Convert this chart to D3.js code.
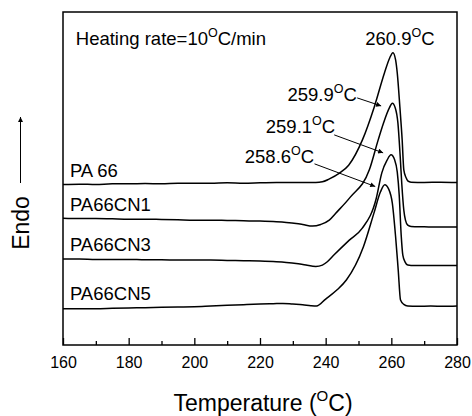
<!DOCTYPE html>
<html>
<head>
<meta charset="utf-8">
<script src="https://cdn.jsdelivr.net/npm/d3@7"></script>
<style>
  body { margin: 0; background: #fff; }
  svg { display: block; font-family: "Liberation Sans", Arial, sans-serif; }
</style>
</head>
<body>
<div id="chart"></div>
<script>
// DSC heating curves (arbitrary heat flow units, stacked)
const pa66 = [[160,4.82],[165,4.83],[170,4.82],[175,4.84],[180,4.84],[185,4.85],[190,4.84],[195,4.86],[200,4.86],[205,4.86],[210,4.87],[215,4.86],[220,4.87],[225,4.88],[230,4.88],[234,4.88],[237,4.88],[239,4.9],[241,4.98],[244.2,5.16],[247,5.4],[251.2,6.16],[254.8,7.15],[257.9,8.17],[259.5,8.62],[260.5,8.78],[261.3,8.56],[261.8,8.17],[262.6,7.15],[263.3,6.16],[263.8,5.26],[264.5,5.02],[265,4.93],[266,4.89],[270,4.88],[275,4.89],[280,4.88]];
const pa66cn1 = [[160,3.81],[165,3.8],[170,3.8],[175,3.79],[180,3.78],[185,3.78],[190,3.77],[195,3.76],[200,3.75],[205,3.75],[210,3.74],[215,3.73],[220,3.72],[225,3.7],[228,3.68],[231,3.65],[233,3.62],[236,3.57],[238.5,3.62],[241.1,3.75],[243,3.95],[247.5,4.44],[253.3,5.26],[256,6.16],[257.6,6.66],[259.4,7.12],[260.3,7.26],[261.2,7.12],[262,6.67],[262.7,5.66],[263.2,4.81],[263.8,4.05],[264.3,3.75],[265,3.6],[266,3.56],[270,3.55],[275,3.54],[280,3.54]];
const pa66cn3 = [[160,2.58],[165,2.58],[170,2.57],[175,2.57],[180,2.57],[185,2.56],[190,2.56],[195,2.55],[200,2.55],[205,2.55],[210,2.54],[215,2.53],[220,2.52],[225,2.5],[228,2.48],[231,2.45],[234,2.4],[237,2.36],[239,2.4],[240.5,2.5],[242.5,2.7],[247.2,3.15],[251.1,3.5],[255.4,4.4],[257.1,5.17],[258.7,5.55],[259.9,5.71],[261,5.56],[261.8,5.2],[262.4,4.5],[263,3.3],[263.5,2.7],[264.2,2.49],[265,2.4],[266,2.39],[270,2.39],[275,2.39],[280,2.39]];
const pa66cn5 = [[160,1.09],[165,1.09],[170,1.09],[175,1.1],[180,1.11],[185,1.12],[190,1.13],[195,1.14],[200,1.15],[205,1.17],[210,1.19],[215,1.21],[220,1.23],[224,1.24],[227,1.25],[230,1.23],[233,1.21],[235.5,1.18],[237.2,1.17],[240,1.38],[243.4,1.65],[246.3,1.95],[251.5,2.95],[254.7,3.96],[256.7,4.6],[258,4.81],[259.2,4.68],[260.3,4.26],[261.3,3.25],[262.1,2.25],[262.8,1.35],[263.8,1.22],[265,1.17],[268,1.16],[272,1.17],[276,1.16],[280,1.17]];

const seriesData = [pa66, pa66cn1, pa66cn3, pa66cn5];
const seriesNames = ["PA 66", "PA66CN1", "PA66CN3", "PA66CN5"];
// label anchor: [temperature, heat flow]
const seriesLabelPos = [[162.1,5.05],[162.1,4.02],[162.1,2.82],[162.1,1.34]];

const xTicks = [160, 180, 200, 220, 240, 260, 280];
const xMinorTicks = [170, 190, 210, 230, 250, 270];

// peak annotations: text, text anchor point, arrow start, arrow end
const peakLabels = ["260.9", "259.9", "259.1", "258.6"];
const peakTextPos = [[252.05,9.01],[249.5,7.33],[242.9,6.37],[236.5,5.48]];
const peakArrowFrom = [null,[249.6,7.42],[242.6,6.31],[236.6,5.44]];
const peakArrowTo = [null,[256.9,7.18],[257.5,5.77],[255.1,4.76]];

const w = 472;
const h = 416;
const margin = { top: 12, right: 15, bottom: 71, left: 63 };

const svg = d3.select("#chart").append("svg").attr("width", w).attr("height", h);
svg.append("rect").attr("width", w).attr("height", h).attr("fill", "#fff");

const xScale = d3.scaleLinear().domain([160, 280]).range([margin.left, w - margin.right]);
const yScale = d3.scaleLinear().domain([0, 10]).range([h - margin.bottom, margin.top]);

const defs = svg.append("defs");
defs.append("marker")
  .attr("id", "head")
  .attr("viewBox", "0 0 10 10")
  .attr("refX", 10).attr("refY", 5)
  .attr("markerWidth", 8).attr("markerHeight", 5)
  .attr("markerUnits", "userSpaceOnUse")
  .attr("orient", "auto")
  .append("path").attr("d", "M0,0L10,5L0,10Z").attr("fill", "#000");

// degree text: main + superscript "O" + rest
function degText(g, x, y, before, after, size, supSize, anchor) {
  const t = g.append("text")
    .attr("x", x).attr("y", y)
    .attr("font-size", size)
    .attr("text-anchor", anchor || "start")
    .attr("fill", "#000");
  t.append("tspan").text(before);
  t.append("tspan").attr("font-size", supSize).attr("dy", -size * 0.42).text("O");
  t.append("tspan").attr("dy", size * 0.42).text(after);
  return t;
}

// curves
const line = d3.line()
  .x((d) => xScale(d[0]))
  .y((d) => yScale(d[1]))
  .curve(d3.curveMonotoneX);

svg.selectAll("path.curve")
  .data(seriesData)
  .enter()
  .append("path")
  .attr("class", "curve")
  .attr("d", line)
  .attr("fill", "none")
  .attr("stroke", "#000")
  .attr("stroke-width", 1.5)
  .attr("stroke-linejoin", "round");

// frame
svg.append("rect")
  .attr("x", xScale(160)).attr("y", yScale(10))
  .attr("width", xScale(280) - xScale(160))
  .attr("height", yScale(0) - yScale(10))
  .attr("fill", "none").attr("stroke", "#000").attr("stroke-width", 1.5);

// x axis ticks (inward)
const xAxis = d3.axisBottom(xScale).tickValues(xTicks).tickSizeInner(-7).tickSizeOuter(0).tickFormat(d3.format("d"));
const gx = svg.append("g").attr("transform", `translate(0,${yScale(0)})`).call(xAxis);
gx.select(".domain").remove();
gx.selectAll(".tick line").attr("stroke-width", 1.3);
gx.selectAll(".tick text").attr("font-size", 16).attr("font-family", "Liberation Sans, Arial, sans-serif").attr("dy", "0.9em").attr("y", 9);
const gxm = svg.append("g").attr("transform", `translate(0,${yScale(0)})`)
  .call(d3.axisBottom(xScale).tickValues(xMinorTicks).tickSizeInner(-4).tickSizeOuter(0).tickFormat(""));
gxm.select(".domain").remove();
gxm.selectAll(".tick line").attr("stroke-width", 1.3);

// axis titles
degText(svg, (xScale(160) + xScale(280)) / 2 + 3, 411, "Temperature (", "C)", 23, 15, "middle");

svg.append("text")
  .attr("transform", "translate(29,223) rotate(-90)")
  .attr("text-anchor", "middle")
  .attr("font-size", 23)
  .text("Endo");
svg.append("line")
  .attr("x1", 20.5).attr("y1", 183).attr("x2", 20.5).attr("y2", 117)
  .attr("stroke", "#000").attr("stroke-width", 1)
  .attr("marker-end", "url(#head)");

// series labels
svg.selectAll("text.series")
  .data(seriesNames)
  .enter()
  .append("text")
  .attr("class", "series")
  .attr("x", (d, i) => xScale(seriesLabelPos[i][0]))
  .attr("y", (d, i) => yScale(seriesLabelPos[i][1]))
  .attr("font-size", 18.5)
  .text((d) => d);

// heating rate note
degText(svg, xScale(163.9), yScale(9.01), "Heating rate=10", "C/min", 18.5, 12.5);

// peak temperatures
peakLabels.forEach((lab, i) => {
  const anchor = i === 0 ? "start" : "end";
  degText(svg, xScale(peakTextPos[i][0]), yScale(peakTextPos[i][1]), lab, "C", 18.5, 12.5, anchor);
  if (peakArrowFrom[i]) {
    svg.append("line")
      .attr("x1", xScale(peakArrowFrom[i][0])).attr("y1", yScale(peakArrowFrom[i][1]))
      .attr("x2", xScale(peakArrowTo[i][0])).attr("y2", yScale(peakArrowTo[i][1]))
      .attr("stroke", "#000").attr("stroke-width", 1)
      .attr("marker-end", "url(#head)");
  }
});
</script>
</body>
</html>
